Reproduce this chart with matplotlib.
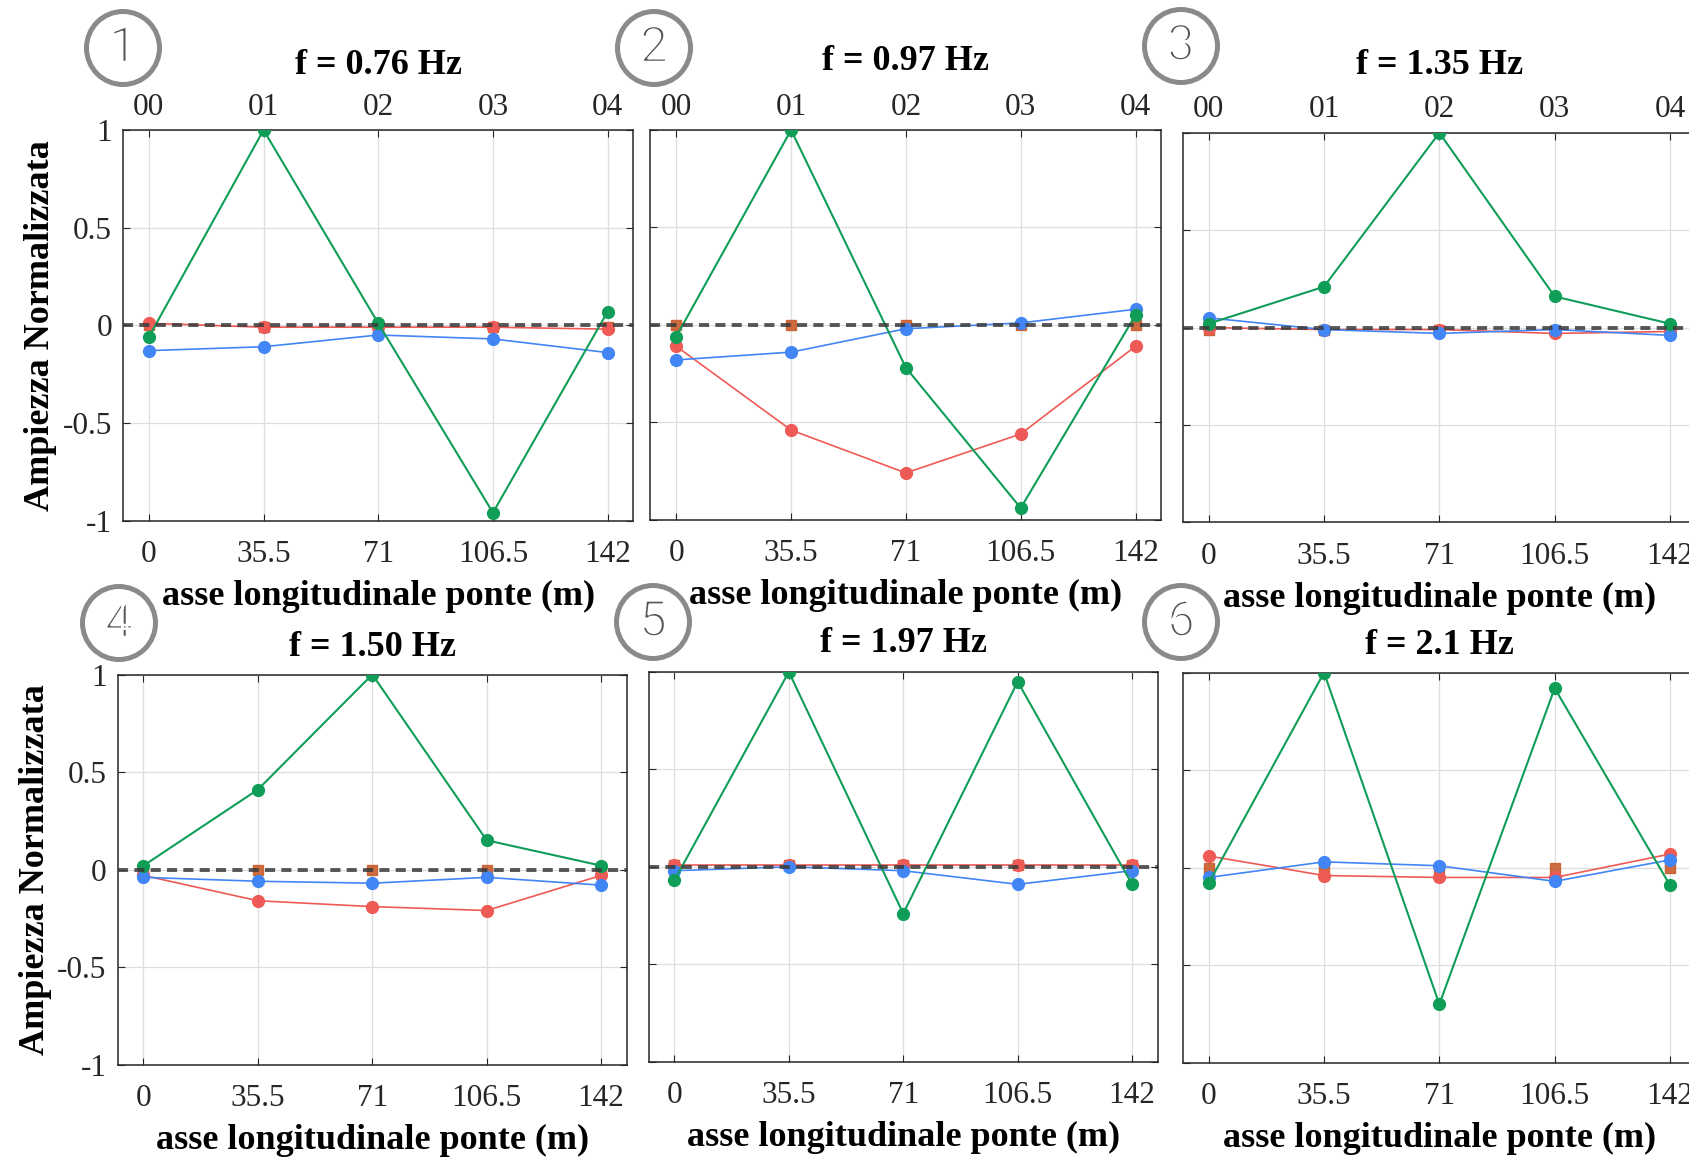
import matplotlib
matplotlib.use("Agg")
import matplotlib.pyplot as plt
import matplotlib.patheffects as pe
from matplotlib.patches import Ellipse

plt.rcParams['font.family'] = ['Liberation Serif', 'DejaVu Serif']
plt.rcParams['axes.unicode_minus'] = False

# bridge stations (m) and sensor names
stations = [0, 35.5, 71, 106.5, 142]
stationLabels = ["0", "35.5", "71", "106.5", "142"]
sensorLabels = ["00", "01", "02", "03", "04"]
yTicks = [-1, -0.5, 0, 0.5, 1]
yTickLabels = ["-1", "-0.5", "0", "0.5", "1"]

frequencies = ["f = 0.76 Hz", "f = 0.97 Hz", "f = 1.35 Hz",
               "f = 1.50 Hz", "f = 1.97 Hz", "f = 2.1 Hz"]
modeNumbers = ["1", "2", "3", "4", "5", "6"]
showZeroLine = [True, True, True, True, True, False]

# normalised mode shapes, one row per mode
greenShape = [
    [-0.06, 1.00, 0.01, -0.96, 0.07],
    [-0.06, 1.00, -0.22, -0.94, 0.05],
    [0.02, 0.21, 1.00, 0.16, 0.02],
    [0.02, 0.41, 1.00, 0.15, 0.02],
    [-0.07, 1.00, -0.24, 0.95, -0.09],
    [-0.08, 1.00, -0.70, 0.92, -0.09],
]
redShape = [
    [0.01, -0.01, -0.01, -0.01, -0.02],
    [-0.11, -0.54, -0.76, -0.56, -0.11],
    [0.00, -0.01, -0.01, -0.03, -0.02],
    [-0.03, -0.16, -0.19, -0.21, -0.03],
    [0.01, 0.01, 0.01, 0.01, 0.01],
    [0.06, -0.04, -0.05, -0.05, 0.07],
]
blueShape = [
    [-0.13, -0.11, -0.05, -0.07, -0.14],
    [-0.18, -0.14, -0.02, 0.01, 0.08],
    [0.05, -0.01, -0.03, -0.01, -0.04],
    [-0.04, -0.06, -0.07, -0.04, -0.08],
    [-0.02, 0.00, -0.02, -0.09, -0.02],
    [-0.05, 0.03, 0.01, -0.07, 0.04],
]
refPoints = [
    [0.00, -0.01, -0.01, -0.01, -0.01],
    [0.00, 0.00, 0.00, 0.00, 0.00],
    [-0.01, -0.01, -0.01, -0.01, -0.01],
    [0.00, 0.00, 0.00, 0.00, -0.01],
    [0.01, 0.01, 0.01, 0.01, 0.01],
    [0.00, -0.01, 0.00, 0.00, 0.00],
]

W, H = 1690, 1161
GREEN = "#0f9d58"
RED = "#ee5a55"
BLUE = "#4285f4"
SQUARE = "#c95c2d"


def pxBox(left, top, right, bottom):
    return [left / W, 1 - bottom / H, (right - left) / W, (bottom - top) / H]


# panel boxes in pixels: left, top, right, bottom
boxes = [
    (123, 130, 633.5, 520.5),
    (650.4, 130, 1161.4, 519.7),
    (1182.7, 132.8, 1696, 522.4),
    (117.7, 674.5, 626.9, 1064.6),
    (648.6, 671.9, 1157.9, 1061.7),
    (1182.7, 672.6, 1696, 1062.8),
]
titleY = [65, 62, 65, 647, 643, 645]
circleCenters = [(123, 48), (654, 48), (1181, 46), (119, 623), (653, 622), (1181, 622)]

fig = plt.figure(figsize=(W / 100, H / 100), dpi=100)

for i in range(6):
    ax = fig.add_axes(pxBox(*boxes[i]))
    ax.set_xlim(-8, 150)
    ax.set_ylim(-1, 1)
    ax.grid(True, color="#dedede", linewidth=0.9)
    ax.set_axisbelow(True)

    ax.plot(stations, refPoints[i], linestyle="none", marker="s", markersize=7,
            color=SQUARE, alpha=0.9, zorder=3)
    ax.plot(stations, redShape[i], color=RED, marker="o", markersize=8.5,
            linewidth=1.2, zorder=4)
    ax.plot(stations, blueShape[i], color=BLUE, marker="o", markersize=8.5,
            linewidth=1.2, zorder=5)
    ax.plot(stations, greenShape[i], color=GREEN, marker="o", markersize=8.5,
            linewidth=1.5, zorder=6)
    if showZeroLine[i]:
        ax.axhline(0, color="#3a3a3a", linewidth=2.8, linestyle=(0, (2.6, 1.6)),
                   alpha=0.85, zorder=7)

    ax.set_xticks(stations, stationLabels)
    ax.set_yticks(yTicks, yTickLabels if i % 3 == 0 else [])
    ax.tick_params(direction="in", length=5, width=0.8, top=True, right=True,
                   labelsize=22.5, colors="#262626")
    ax.tick_params(axis="x", pad=14)
    ax.tick_params(axis="y", pad=8)
    for sp in ax.spines.values():
        sp.set_color("#262626")
        sp.set_linewidth(1.1)

    ax.set_xlabel("asse longitudinale ponte (m)", fontsize=26, fontweight="bold",
                  labelpad=8)
    if i % 3 == 0:
        ax.set_ylabel("Ampiezza Normalizzata", fontsize=26, fontweight="bold",
                      labelpad=4)

    if i < 3:
        top = ax.secondary_xaxis("top")
        top.set_xticks(stations, sensorLabels)
        top.tick_params(length=0, labelsize=22.5, pad=6, colors="#262626")
        top.spines["top"].set_visible(False)

    l, t, r, b = boxes[i]
    cx = l + (r - l) / 2 if i % 3 != 2 else l + (1670 + 26 - l) / 2
    fig.text(cx / W, 1 - titleY[i] / H, frequencies[i], fontsize=26,
             fontweight="bold", ha="center", va="center")

    # numbered badge, digit thinned with a white outline
    ccx, ccy = circleCenters[i]
    fig.add_artist(Ellipse((ccx / W, 1 - ccy / H), 2 * 36.5 / W, 2 * 36.5 / H,
                           transform=fig.transFigure, facecolor="white",
                           edgecolor="#8a8a8a", linewidth=3.6))
    fig.text(ccx / W, 1 - ccy / H, modeNumbers[i], fontsize=36,
             family=["Roboto", "Lato", "DejaVu Sans"], color="#555555",
             ha="center", va="center",
             path_effects=[pe.Normal(), pe.Stroke(linewidth=1.8, foreground="white")])

fig.savefig("out.png", dpi=100)
